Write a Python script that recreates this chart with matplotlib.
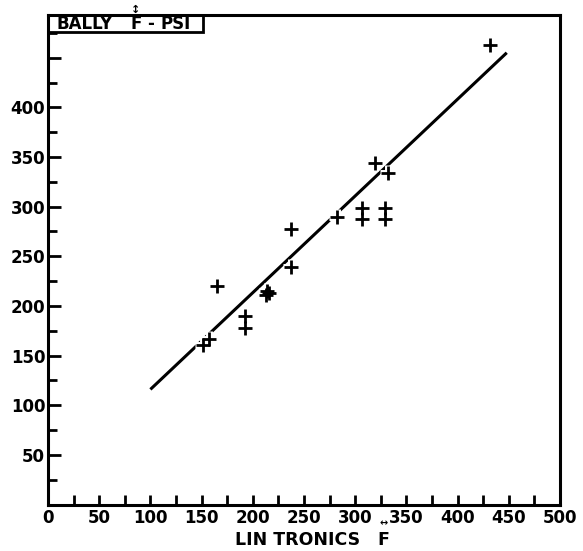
import matplotlib
matplotlib.use("Agg")
import matplotlib.pyplot as plt
from matplotlib.patches import Rectangle

# Lin Tronics vs Bally readings
lin_f = [151, 157, 165, 192, 192, 213, 216, 214, 237, 237, 282,
         307, 307, 329, 329, 319, 332, 432]
bally_f = [161, 167, 220, 190, 178, 211, 213, 215, 278, 239, 290,
           299, 288, 299, 288, 344, 334, 463]

# hand-drawn fit line (end points)
fit_x = [100, 448]
fit_y = [116, 455]

x_labels = ['0', '50', '100', '150', '200', '250', '300', '350', '400', '450', '500']
y_labels = ['50', '100', '150', '200', '250', '300', '350', '400', '']

W, H = 583, 551
fig = plt.figure(figsize=(W / 100, H / 100), dpi=100)
ax = fig.add_axes([48 / W, 1 - 504.6 / H, 512 / W, 489.6 / H])

ax.plot(fit_x, fit_y, color='black', lw=2.2, solid_capstyle='butt', zorder=2)
# white halo under the crosses so the line breaks around them
ax.plot(lin_f, bally_f, ls='none', marker='+', ms=11, mew=5, color='white', zorder=3)
ax.plot(lin_f, bally_f, ls='none', marker='+', ms=9.5, mew=2, color='black', zorder=4)

ax.set_xlim(0, 500)
ax.set_ylim(0, 493)

ax.set_xticks(range(0, 501, 50))
ax.set_xticklabels(x_labels)
ax.set_xticks(range(25, 500, 50), minor=True)
ax.set_yticks(range(50, 451, 50))
ax.set_yticklabels(y_labels)
ax.set_yticks(range(25, 476, 50), minor=True)

ax.tick_params(axis='both', which='both', direction='in', width=2, color='black')
ax.tick_params(axis='x', which='both', length=7, pad=3)
ax.tick_params(axis='y', which='major', length=9, pad=2)
ax.tick_params(axis='y', which='minor', length=6.5)
for lab in ax.get_xticklabels() + ax.get_yticklabels():
    lab.set_fontsize(12)
    lab.set_fontweight('bold')

for sp in ax.spines.values():
    sp.set_linewidth(2.2)

# label box in the corner
box_y0 = (504.6 - 32) / 489.6
ax.add_patch(Rectangle((0, box_y0), (203 - 48) / 512, 1 - box_y0,
                       transform=ax.transAxes, fill=False, lw=2, ec='black',
                       clip_on=False, zorder=5))

def ftext(px, py, s, size, **kw):
    fig.text(px / W, 1 - py / H, s, fontsize=size, fontweight='bold', **kw)

ftext(56.7, 24, 'BALLY', 12, ha='left', va='center')
ftext(136, 24, 'F', 12, ha='center', va='center')
ftext(136, 10, '\u2195', 8, ha='center', va='center')
ftext(147, 24, '-', 12, ha='left', va='center')
ftext(160, 24, 'PSI', 12, ha='left', va='center')

ftext(235, 540, 'LIN TRONICS', 12.5, ha='left', va='center')
ftext(383, 540, 'F', 12.5, ha='center', va='center')
ftext(384, 523, '\u2194', 7, ha='center', va='center')

fig.savefig('out.png', dpi=100)
